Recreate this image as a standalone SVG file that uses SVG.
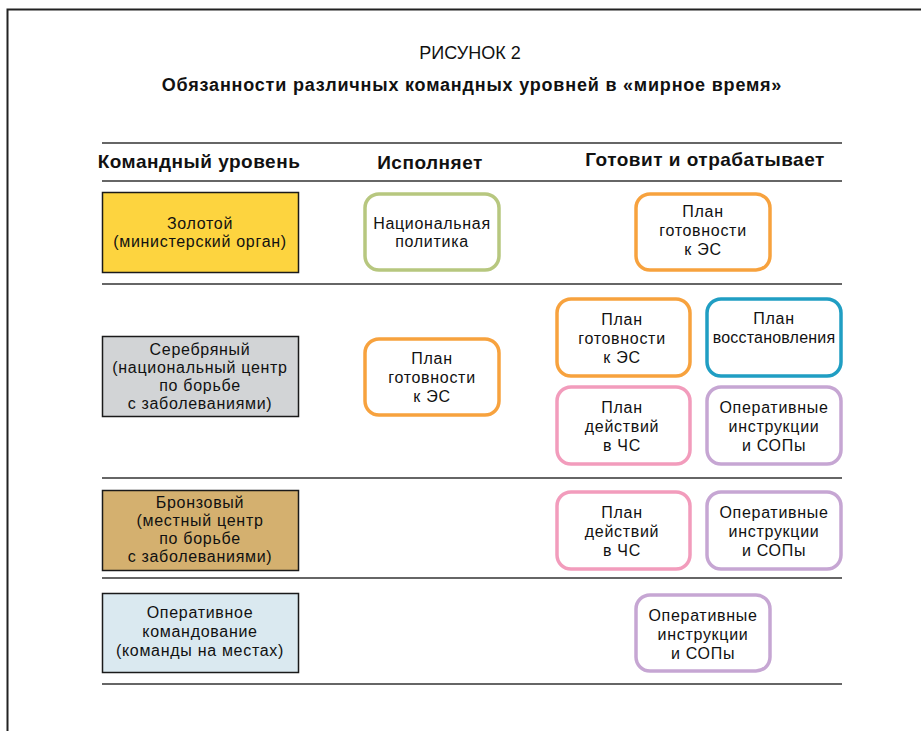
<svg xmlns="http://www.w3.org/2000/svg" width="921" height="731" viewBox="0 0 921 731">
<style>
text{font-family:"Liberation Sans",Arial,sans-serif;fill:#111;text-anchor:middle}
.t{font-size:16px;letter-spacing:0.7px}
.h{font-size:19px;font-weight:bold;letter-spacing:0.5px}
.lvl{stroke:#1a1a1a;stroke-width:1.5}
.rb{fill:#fff;stroke-width:3.5}
.rule{stroke:#333;stroke-width:1.5}
</style>
<rect x="0" y="0" width="921" height="731" fill="#fff"/>
<path d="M7.5 731V9.5H921" fill="none" stroke="#222" stroke-width="2"/>
<text x="470" y="59" style="font-size:18px">РИСУНОК 2</text>
<text x="472" y="91" style="font-size:18px;font-weight:bold;letter-spacing:0.8px">Обязанности различных командных уровней в «мирное время»</text>
<g id="rules">
<line class="rule" x1="102" y1="143" x2="842" y2="143"/>
<line class="rule" x1="102" y1="181" x2="842" y2="181"/>
<line class="rule" x1="102" y1="284" x2="842" y2="284"/>
<line class="rule" x1="102" y1="478" x2="842" y2="478"/>
<line class="rule" x1="102" y1="578" x2="842" y2="578"/>
<line class="rule" x1="102" y1="684" x2="842" y2="684"/>
</g>
<g id="headers">
<text class="h" x="199" y="168">Командный уровень</text>
<text class="h" x="430" y="169">Исполняет</text>
<text class="h" x="705" y="166">Готовит и отрабатывает</text>
</g>
<g id="gold"><rect class="lvl" x="102.5" y="192.5" width="196" height="80" fill="#FDD43F"/>
<text class="t" x="200" y="229">Золотой</text><text class="t" x="200" y="247">(министерский орган)</text></g>
<g id="silver"><rect class="lvl" x="102.5" y="336.5" width="196" height="80" fill="#D2D4D6"/>
<text class="t" x="200" y="355">Серебряный</text><text class="t" x="200" y="373">(национальный центр</text><text class="t" x="200" y="391">по борьбе</text><text class="t" x="200" y="409">с заболеваниями)</text></g>
<g id="bronze"><rect class="lvl" x="102.5" y="490.5" width="196" height="80" fill="#D4B06F"/>
<text class="t" x="200" y="508">Бронзовый</text><text class="t" x="200" y="526">(местный центр</text><text class="t" x="200" y="544">по борьбе</text><text class="t" x="200" y="562">с заболеваниями)</text></g>
<g id="operative"><rect class="lvl" x="102.5" y="593.5" width="196" height="79" fill="#DAE9F0"/>
<text class="t" x="200" y="618">Оперативное</text><text class="t" x="200" y="637">командование</text><text class="t" x="200" y="656">(команды на местах)</text></g>
<g id="nat-policy"><rect class="rb" x="365" y="194" width="134" height="76" rx="14" stroke="#B7C77F"/>
<text class="t" x="432" y="229">Национальная</text><text class="t" x="432" y="247">политика</text></g>
<g id="gold-prep"><rect class="rb" x="636" y="194" width="134" height="76" rx="14" stroke="#F7A23E"/>
<text class="t" x="703" y="217">План</text><text class="t" x="703" y="236">готовности</text><text class="t" x="703" y="255">к ЭС</text></g>
<g id="silver-exec"><rect class="rb" x="365" y="339" width="134" height="76" rx="14" stroke="#F7A23E"/>
<text class="t" x="432" y="364">План</text><text class="t" x="432" y="383">готовности</text><text class="t" x="432" y="402">к ЭС</text></g>
<g id="silver-prep"><rect class="rb" x="557" y="299" width="133" height="77" rx="14" stroke="#F7A23E"/>
<text class="t" x="622" y="325">План</text><text class="t" x="622" y="344">готовности</text><text class="t" x="622" y="363">к ЭС</text></g>
<g id="silver-recovery"><rect class="rb" x="707" y="299" width="134" height="77" rx="14" stroke="#209EC3"/>
<text class="t" x="774" y="324">План</text><text class="t" x="774" y="343" style="letter-spacing:0.2px">восстановления</text></g>
<g id="silver-action"><rect class="rb" x="557" y="387" width="133" height="77" rx="14" stroke="#F29CBC"/>
<text class="t" x="622" y="413">План</text><text class="t" x="622" y="432">действий</text><text class="t" x="622" y="451">в ЧС</text></g>
<g id="silver-sop"><rect class="rb" x="707" y="387" width="134" height="77" rx="14" stroke="#C6A6D3"/>
<text class="t" x="774" y="413">Оперативные</text><text class="t" x="774" y="432">инструкции</text><text class="t" x="774" y="451">и СОПы</text></g>
<g id="bronze-action"><rect class="rb" x="557" y="492" width="133" height="77" rx="14" stroke="#F29CBC"/>
<text class="t" x="622" y="518">План</text><text class="t" x="622" y="537">действий</text><text class="t" x="622" y="556">в ЧС</text></g>
<g id="bronze-sop"><rect class="rb" x="707" y="492" width="134" height="77" rx="14" stroke="#C6A6D3"/>
<text class="t" x="774" y="518">Оперативные</text><text class="t" x="774" y="537">инструкции</text><text class="t" x="774" y="556">и СОПы</text></g>
<g id="operative-sop"><rect class="rb" x="636" y="595" width="134" height="76" rx="14" stroke="#C6A6D3"/>
<text class="t" x="703" y="621">Оперативные</text><text class="t" x="703" y="640">инструкции</text><text class="t" x="703" y="659">и СОПы</text></g>
<g id="connectors"></g>
</svg>
